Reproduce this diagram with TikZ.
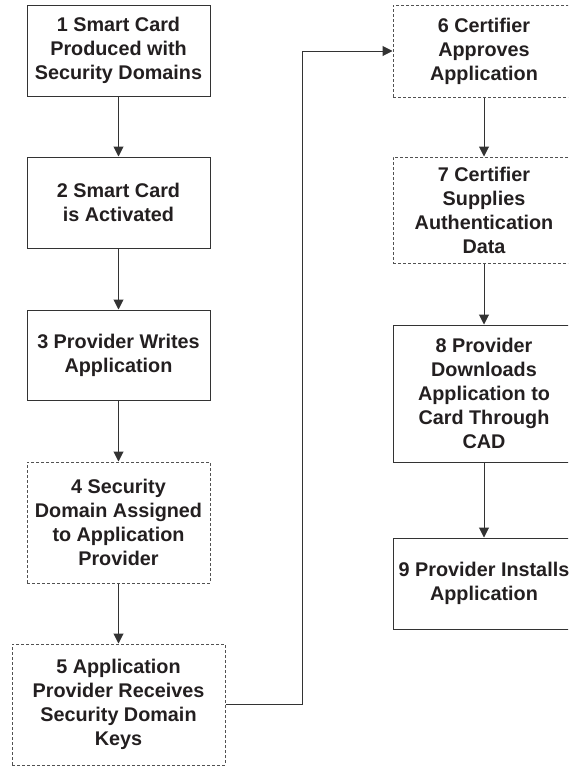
\documentclass[tikz,border=0pt]{standalone}
\usepackage{fontspec}
\setmainfont{Liberation Sans}
\usetikzlibrary{arrows.meta}
\definecolor{ink}{HTML}{231F20}
\definecolor{edge}{HTML}{333333}
\begin{document}
\begin{tikzpicture}[x=1pt,y=-1pt,
  box/.style={draw=edge, line width=1pt, rectangle, inner sep=0pt,
    minimum width=#1, align=center, text=ink,
    font=\fontsize{19.8}{24}\selectfont\bfseries},
  box/.default=183pt,
  dotbox/.style={box=#1, dash pattern=on 3pt off 2pt, draw=edge!85},
  dotbox/.default=183pt,
  flow/.style={draw=edge, line width=1pt, -{Triangle[length=10pt,width=10pt]}}]
\useasboundingbox (0,0) rectangle (568,766);
\clip (0,0) rectangle (568,766);

% left column
\node[box, minimum height=91pt] (n1) at (118.5,50.5)
  {1 Smart Card\\Produced with\\Security Domains};
\node[box, minimum height=91pt] (n2) at (118.5,202.5)
  {2 Smart Card\\is Activated};
\node[box, minimum height=90pt] (n3) at (118.5,355)
  {3 Provider Writes\\Application};
\node[dotbox, minimum height=121pt] (n4) at (118.5,522.5)
  {4 Security\\Domain Assigned\\to Application\\Provider};
\node[dotbox=213pt, minimum height=121pt] (n5) at (118.5,704.5)
  {5 Application\\Provider Receives\\Security Domain\\Keys};

% right column
\node[dotbox=182pt, minimum height=92pt] (n6) at (484,51)
  {6 Certifier\\Approves\\Application};
\node[dotbox=182pt, minimum height=106pt] (n7) at (484,210)
  {7 Certifier\\Supplies\\Authentication\\Data};
\node[box=182pt, minimum height=137pt] (n8) at (484,393.5)
  {8 Provider\\Downloads\\Application to\\Card Through\\CAD};
\node[box=182pt, minimum height=91pt] (n9) at (484,583.5)
  {9 Provider Installs\\Application};

% connectors
\draw[flow] (n1) -- (n2);
\draw[flow] (n2) -- (n3);
\draw[flow] (n3) -- (n4);
\draw[flow] (n4) -- (n5);
\coordinate (turn) at (302,0);
\draw[flow] (n5.east) -- (n5.east -| turn) -- (turn |- n6.west) -- (n6.west);
\draw[flow] (n6) -- (n7);
\draw[flow] (n7) -- (n8);
\draw[flow] (n8) -- (n9);
\end{tikzpicture}
\end{document}
